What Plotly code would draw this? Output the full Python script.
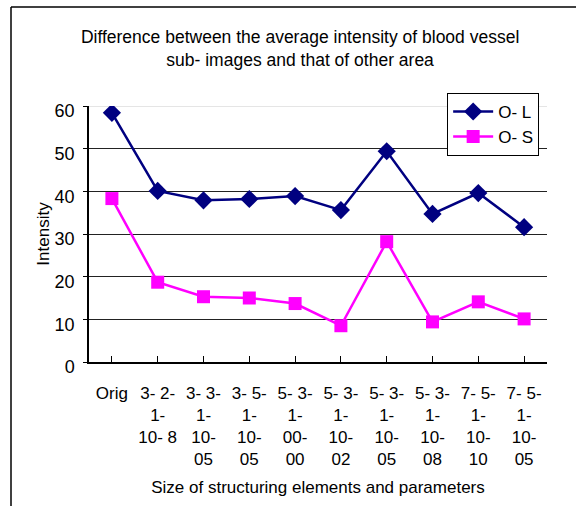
import plotly.graph_objects as go

categories = ["Orig", "3- 2-<br>1-<br>10- 8", "3- 3-<br>1-<br>10-<br>05", "3- 5-<br>1-<br>10-<br>05",
              "5- 3-<br>1-<br>00-<br>00", "5- 3-<br>1-<br>10-<br>02", "5- 3-<br>1-<br>10-<br>05",
              "5- 3-<br>1-<br>10-<br>08", "7- 5-<br>1-<br>10-<br>10", "7- 5-<br>1-<br>10-<br>05"]
o_l = [58.4, 40.1, 37.9, 38.2, 38.9, 35.6, 49.4, 34.7, 39.6, 31.6]
o_s = [38.3, 18.7, 15.3, 15.0, 13.7, 8.5, 28.2, 9.4, 14.1, 10.1]
y_ticks = [0, 10, 20, 30, 40, 50, 60]

FONT = "Arial, Liberation Sans, sans-serif"
x_idx = list(range(len(categories)))

fig = go.Figure()
fig.add_trace(go.Scatter(x=x_idx, y=o_l, name="O- L", mode="lines+markers",
                         line=dict(color="#000080", width=2.5),
                         marker=dict(symbol="diamond", size=14, color="#000080")))
fig.add_trace(go.Scatter(x=x_idx, y=o_s, name="O- S", mode="lines+markers",
                         line=dict(color="#FF00FF", width=2.5),
                         marker=dict(symbol="square", size=13, color="#FF00FF")))

fig.update_layout(
    width=576, height=506,
    margin=dict(l=89, r=29, t=106, b=144),
    paper_bgcolor="white", plot_bgcolor="white",
    font=dict(family=FONT, color="black", size=17),
    title=dict(text="Difference between the average intensity of blood vessel<br>sub- images and that of other area",
               x=0.521, xanchor="center", y=0.915, yanchor="top",
               font=dict(family=FONT, size=17.5, color="black")),
    showlegend=True,
    legend=dict(x=0.782, y=1.051, xanchor="left", yanchor="top",
                bordercolor="black", borderwidth=1, bgcolor="white",
                font=dict(family=FONT, size=17), tracegroupgap=0,
                itemwidth=40),
    xaxis=dict(range=[-0.5, 9.5], tickmode="array", tickvals=x_idx, ticktext=categories,
               showgrid=False, showline=True, linecolor="black", linewidth=1.5,
               ticks="inside", ticklen=6, tickcolor="black", tickson="boundaries",
               tickangle=0, zeroline=False, ticklabelstandoff=15,
               tickfont=dict(family=FONT, size=17),
               title=dict(text="Size of structuring elements and parameters",
                          font=dict(family=FONT, size=17), standoff=13)),
    yaxis=dict(range=[0, 60], tickmode="array", tickvals=y_ticks,
               showgrid=True, gridcolor="#222222", gridwidth=1,
               showline=True, linecolor="black", linewidth=1.5,
               ticks="outside", ticklen=4, tickcolor="black", zeroline=False,
               ticklabelstandoff=5, ticklabelshift=5,
               tickfont=dict(family=FONT, size=18),
               title=dict(text="Intensity", font=dict(family=FONT, size=17), standoff=1)),
    shapes=[
        dict(type="line", xref="paper", yref="y", x0=0, x1=1, y0=60, y1=60,
             line=dict(color="#dddddd", width=1.5), layer="below"),
        dict(type="line", xref="paper", yref="paper", x0=-0.1703, x1=1.07, y0=1.387, y1=1.387,
             line=dict(color="black", width=1.5), layer="above"),
        dict(type="line", xref="paper", yref="paper", x0=-0.1703, x1=-0.1703, y0=-0.58, y1=1.387,
             line=dict(color="black", width=1.5), layer="above"),
    ],
)

fig.write_html("out.html")
